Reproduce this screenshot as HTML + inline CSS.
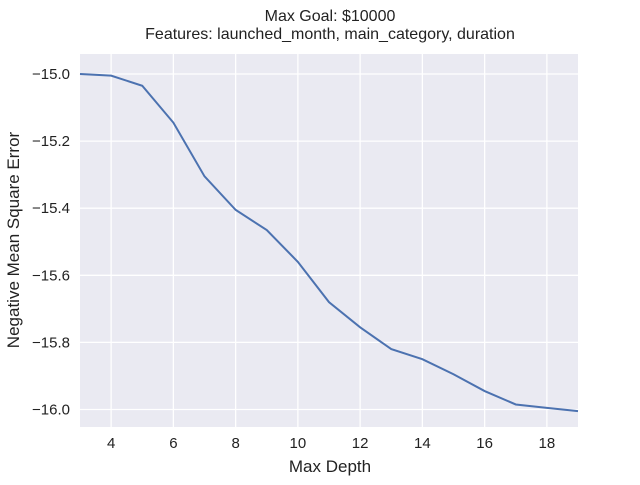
<!DOCTYPE html>
<html><head><meta charset="utf-8"><style>
body{margin:0;background:#fff;font-family:"Liberation Sans","DejaVu Sans",sans-serif}
</style></head><body>
<svg width="640" height="480" xmlns="http://www.w3.org/2000/svg">
<text x="330" y="21" text-anchor="middle" font-size="16" fill="#222">Max Goal: $10000</text>
<text x="330" y="39" text-anchor="middle" font-size="16" fill="#222">Features: launched_month, main_category, duration</text>
<rect x="80" y="54" width="498" height="373" fill="#eaeaf2"/>
<g id="grid"></g>
<path id="line" fill="none" stroke="#4c72b0" stroke-width="2"/>
<text x="330" y="472" text-anchor="middle" font-size="17" fill="#222">Max Depth</text>
<text transform="translate(19,240) rotate(-90)" text-anchor="middle" font-size="17" fill="#222">Negative Mean Square Error</text>
</svg>
<script>
const depths=[3,4,5,6,7,8,9,10,11,12,13,14,15,16,17,18,19];
const mse=[-15.0,-15.005,-15.035,-15.145,-15.305,-15.405,-15.465,-15.56,-15.68,-15.755,-15.82,-15.85,-15.895,-15.945,-15.985,-15.995,-16.005];
const xTicks=[4,6,8,10,12,14,16,18];
const yTicks=[-15.0,-15.2,-15.4,-15.6,-15.8,-16.0];
const yLabels=["\u221215.0","\u221215.2","\u221215.4","\u221215.6","\u221215.8","\u221216.0"];
const NS="http://www.w3.org/2000/svg";
const X=v=>80+(v-3)*(498/16);
const Y=v=>74+(-15.0-v)*335.5;
const svg=document.querySelector('svg'),g=document.getElementById('grid');
function mk(t,a){const e=document.createElementNS(NS,t);for(const k in a)e.setAttribute(k,a[k]);return e;}
xTicks.forEach(v=>{
 const l=mk('line',{x1:X(v),x2:X(v),y1:54,y2:427,stroke:'#fff','stroke-width':1.3});
 
 
 g.appendChild(l);
 const t=mk('text',{x:X(v),y:448,'text-anchor':'middle','font-size':15,fill:'#222'});
 
 
 t.textContent=v;svg.appendChild(t);
});
yTicks.forEach((v,i)=>{
 const l=mk('line',{x1:80,x2:578,y1:Y(v),y2:Y(v),stroke:'#fff','stroke-width':1.3});
 
 
 g.appendChild(l);
 const t=mk('text',{x:70,y:Y(v)+5,'text-anchor':'end','font-size':15,fill:'#222'});
 
 
 t.textContent=yLabels[i];svg.appendChild(t);
});
document.getElementById('line').setAttribute('d',depths.map((d,i)=>(i?'L':'M')+X(d)+','+Y(mse[i])).join(''));
</script>
</body></html>
